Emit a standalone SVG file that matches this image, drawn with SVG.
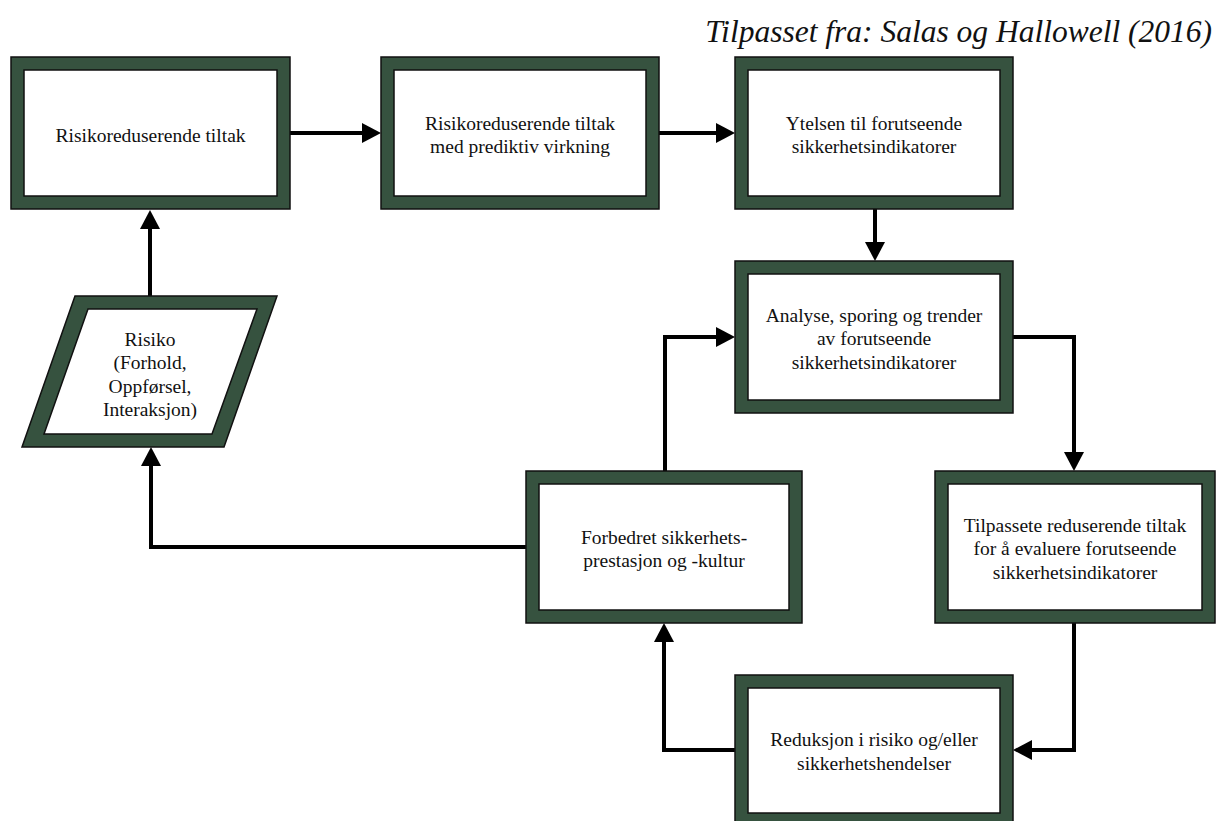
<svg xmlns="http://www.w3.org/2000/svg" width="1217" height="821" viewBox="0 0 1217 821">
  <style>
    .frame { fill: #36523f; stroke: #111; stroke-width: 1.5; }
    .inner { fill: #ffffff; stroke: #111; stroke-width: 1.5; }
    .label { font-family: "Liberation Serif", "Times New Roman", serif; font-size: 19.5px; fill: #111; text-anchor: middle; }
    .title { font-family: "Liberation Serif", "Times New Roman", serif; font-size: 31.5px; font-style: italic; fill: #111; text-anchor: end; }
    .link { fill: none; stroke: #000; stroke-width: 4; marker-end: url(#head); }
  </style>
  <defs>
    <marker id="head" markerUnits="userSpaceOnUse" markerWidth="20" markerHeight="20" refX="0" refY="10" orient="auto" overflow="visible">
      <path d="M0,0 L19,10 L0,20 Z" fill="#000"/>
    </marker>
  </defs>

  <rect width="1217" height="821" fill="#ffffff"/>

  <text class="title" x="1212" y="42">Tilpasset fra: Salas og Hallowell (2016)</text>

  <g id="connectors">
    <path class="link" d="M290,133 H362"/>
    <path class="link" d="M659,133 H716"/>
    <path class="link" d="M875,209 V242"/>
    <path class="link" d="M1013,337 H1074 V452"/>
    <path class="link" d="M1074,623 V750 H1032"/>
    <path class="link" d="M735,750 H664 V642"/>
    <path class="link" d="M665,471 V337 H716"/>
    <path class="link" d="M526,547 H151 V466"/>
    <path class="link" d="M150,296 V229"/>
  </g>

  <g id="risikoreduserende-tiltak">
    <rect class="frame" x="11" y="57" width="279" height="152"/>
    <rect class="inner" x="24" y="70" width="253" height="126"/>
    <text class="label" x="150.5" y="141.5">Risikoreduserende tiltak</text>
  </g>

  <g id="prediktiv-virkning">
    <rect class="frame" x="381" y="57" width="278" height="152"/>
    <rect class="inner" x="394" y="70" width="252" height="126"/>
    <text class="label" x="520" y="130">Risikoreduserende tiltak</text>
    <text class="label" x="520" y="153">med prediktiv virkning</text>
  </g>

  <g id="ytelsen">
    <rect class="frame" x="735" y="57" width="278" height="152"/>
    <rect class="inner" x="748" y="70" width="252" height="126"/>
    <text class="label" x="874" y="130">Ytelsen til forutseende</text>
    <text class="label" x="874" y="153">sikkerhetsindikatorer</text>
  </g>

  <g id="analyse">
    <rect class="frame" x="735" y="261" width="278" height="152"/>
    <rect class="inner" x="748" y="274" width="252" height="126"/>
    <text class="label" x="874" y="321.5">Analyse, sporing og trender</text>
    <text class="label" x="874" y="345">av forutseende</text>
    <text class="label" x="874" y="368.5">sikkerhetsindikatorer</text>
  </g>

  <g id="risiko">
    <polygon class="frame" points="75,296 277,296 224,447 22,447"/>
    <polygon class="inner" points="88,309 257,309 212,434 44,434"/>
    <text class="label" x="150" y="345.5">Risiko</text>
    <text class="label" x="150" y="369">(Forhold,</text>
    <text class="label" x="150" y="392.5">Oppførsel,</text>
    <text class="label" x="150" y="416">Interaksjon)</text>
  </g>

  <g id="forbedret">
    <rect class="frame" x="526" y="471" width="276" height="152"/>
    <rect class="inner" x="539" y="484" width="250" height="126"/>
    <text class="label" x="664" y="543.5">Forbedret sikkerhets-</text>
    <text class="label" x="664" y="566.5">prestasjon og -kultur</text>
  </g>

  <g id="tilpassete">
    <rect class="frame" x="935" y="471" width="280" height="152"/>
    <rect class="inner" x="948" y="484" width="254" height="126"/>
    <text class="label" x="1075" y="531.5">Tilpassete reduserende tiltak</text>
    <text class="label" x="1075" y="555">for å evaluere forutseende</text>
    <text class="label" x="1075" y="578.5">sikkerhetsindikatorer</text>
  </g>

  <g id="reduksjon">
    <rect class="frame" x="735" y="675" width="278" height="152"/>
    <rect class="inner" x="748" y="688" width="252" height="125"/>
    <text class="label" x="874" y="746">Reduksjon i risiko og/eller</text>
    <text class="label" x="874" y="769.5">sikkerhetshendelser</text>
  </g>
</svg>
